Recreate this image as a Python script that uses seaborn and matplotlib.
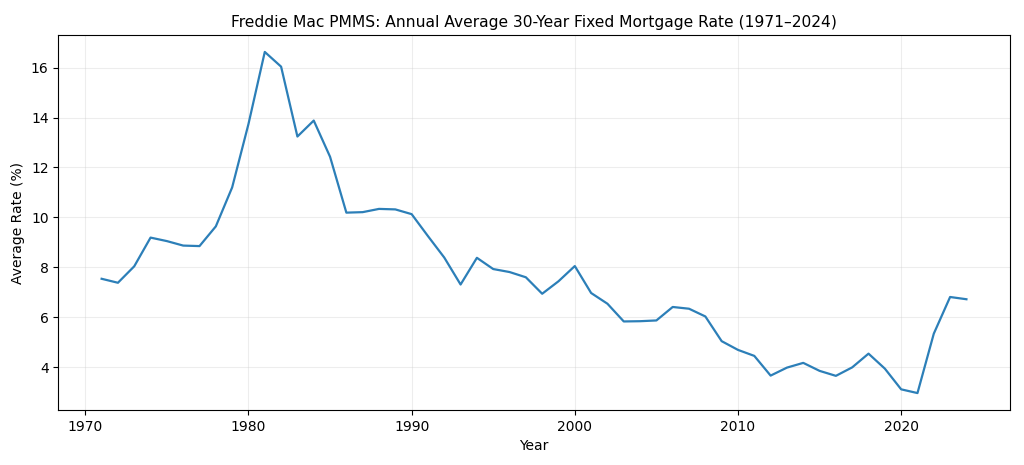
"""Freddie Mac PMMS annual average 30-year fixed mortgage rate, 1971-2024."""

import matplotlib
matplotlib.use("Agg")
import matplotlib.pyplot as plt
import pandas as pd
import seaborn as sns

YEARS = list(range(1971, 2025))
RATES = [
    7.54, 7.38, 8.04, 9.19, 9.05, 8.87, 8.85, 9.64, 11.20, 13.74,
    16.63, 16.04, 13.24, 13.88, 12.43, 10.19, 10.21, 10.34, 10.32, 10.13,
    9.25, 8.39, 7.31, 8.38, 7.93, 7.81, 7.60, 6.94, 7.44, 8.05,
    6.97, 6.54, 5.83, 5.84, 5.87, 6.41, 6.34, 6.03, 5.04, 4.69,
    4.45, 3.66, 3.98, 4.17, 3.85, 3.65, 3.99, 4.54, 3.94, 3.11,
    2.96, 5.34, 6.81, 6.72,
]
LINE_COLOR = "#2c7fb8"


def main() -> None:
    df = pd.DataFrame({"Year": YEARS, "Rate": RATES})

    fig, ax = plt.subplots(figsize=(10.24, 4.65), dpi=100)
    sns.lineplot(data=df, x="Year", y="Rate", color=LINE_COLOR, linewidth=1.6, ax=ax)
    ax.grid(True, color="#cccccc", alpha=0.35, linewidth=0.8)
    ax.set_axisbelow(True)
    ax.set_title("Freddie Mac PMMS: Annual Average 30-Year Fixed Mortgage Rate (1971\u20132024)", fontsize=11.2)
    ax.set_xlabel("Year")
    ax.set_ylabel("Average Rate (%)")
    fig.subplots_adjust(left=0.057, right=0.986, top=0.925, bottom=0.118)
    fig.savefig("out.png", dpi=100)
    plt.close(fig)


if __name__ == "__main__":
    main()
